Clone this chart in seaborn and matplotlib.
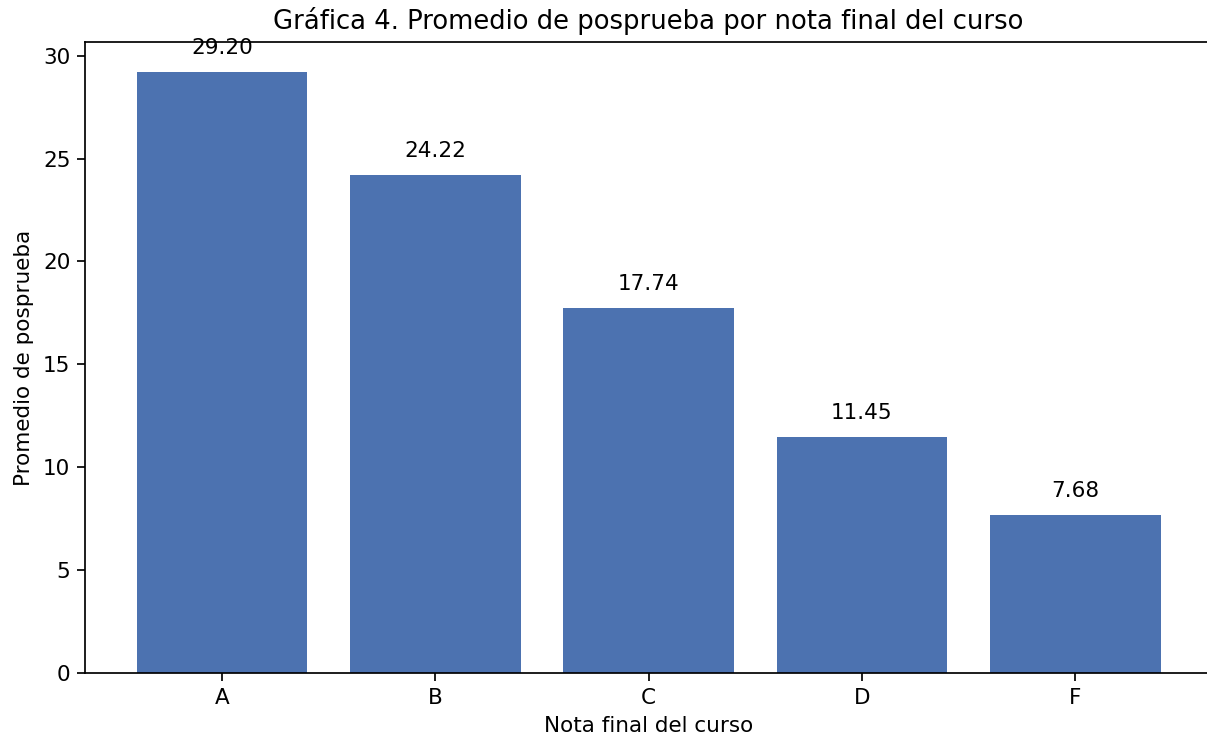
import matplotlib
matplotlib.use("Agg")
import matplotlib.pyplot as plt
import seaborn as sns
import pandas as pd

notas = ["A", "B", "C", "D", "F"]
promedios = [29.20, 24.22, 17.74, 11.45, 7.68]

df = pd.DataFrame({"nota": notas, "promedio": promedios})

fig, ax = plt.subplots(figsize=(1207 / 155, 740 / 155), dpi=155)
# the reference is cropped on the right, so the axes run just past the edge
fig.subplots_adjust(left=0.0708, right=1.0039, bottom=0.0909, top=0.943)

sns.barplot(data=df, x="nota", y="promedio", color="#4c72b0", saturation=1,
            width=0.8, ax=ax)

for i, v in enumerate(promedios):
    ax.annotate(f"{v:.2f}", (i, v), xytext=(0, 6.5), textcoords="offset points",
                ha="center", va="bottom", fontsize=10)

ax.set_xlim(-0.64, 4.64)
ax.set_ylim(0, 29.2 * 1.05)
ax.spines["right"].set_visible(False)
ax.set_title("Gráfica 4. Promedio de posprueba por nota final del curso", fontsize=12)
ax.set_xlabel("Nota final del curso")
ax.set_ylabel("Promedio de posprueba")

fig.savefig("out.png", dpi=155)
